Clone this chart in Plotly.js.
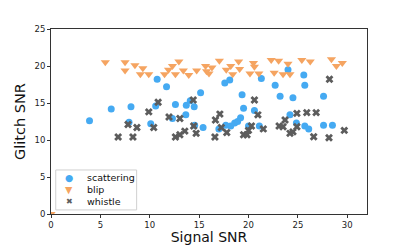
<!DOCTYPE html>
<html><head><meta charset="utf-8">
<script src="https://cdn.plot.ly/plotly-3.0.1.min.js"></script>
<style>html,body{margin:0;padding:0;background:#fff;}#chart{width:407px;height:245px;}</style>
</head><body><div id="chart"></div>
<script>
const scatteringX = [3.9,6.1,7.9,8.1,10.1,10.6,10.75,11.7,12.3,12.6,13.7,14.1,14.5,13.65,14.55,15.15,15.4,17.0,17.6,18.1,17.7,18.2,18.6,18.9,19.2,19.35,19.5,20.0,20.6,21.1,21.3,22.7,23.2,24.0,24.2,24.5,24.85,25.6,25.7,25.7,26.1,27.6,27.6,28.5];
const scatteringY = [12.6,14.2,12.4,14.5,12.2,14.6,18.2,17.2,12.9,14.8,14.7,15.3,14.5,13.4,12.0,16.4,11.7,11.5,17.7,18.1,12.0,11.9,12.3,12.5,13.0,16.1,14.3,11.9,14.0,11.9,18.3,17.4,15.9,19.5,13.4,15.7,12.3,18.8,17.4,11.9,11.5,15.9,12.0,12.0];
const blipX = [0,5.5,7.5,7.5,8.5,9.3,9.05,9.9,11.5,11.9,12.3,12.95,12.6,13.4,13.95,14.75,15.65,15.75,16.0,16.3,17.05,17.75,18.2,18.4,19.0,19.1,20.15,20.5,20.6,21.05,22.3,23.05,22.6,23.5,24.0,24.2,25.4,26.25,28.4,28.9,29.5];
const blipY = [0,20.5,20.5,19.4,20.1,19.7,18.9,18.9,18.9,19.5,20.0,20.6,18.9,19.4,18.8,19.4,20.0,19.3,19.0,19.8,20.7,19.5,20.0,18.9,20.6,19.6,19.0,20.4,19.9,19.0,20.8,20.7,19.1,18.9,20.3,18.9,20.8,20.6,20.9,20.0,20.4];
const whistleX = [6.8,7.8,8.3,8.7,9.9,10.4,10.85,11.95,12.6,13.05,13.05,13.55,14.4,14.45,14.7,16.6,16.65,17.1,17.25,17.8,19.5,19.85,20.0,20.3,20.6,20.95,21.5,23.1,23.5,23.7,24.2,24.5,24.9,24.9,25.9,26.85,26.6,28.15,28.2,29.7];
const whistleY = [10.4,12.1,10.4,11.7,13.8,11.7,15.1,13.1,10.4,12.9,10.7,11.2,15.4,11.9,10.9,10.4,12.7,13.5,11.7,11.0,10.7,10.7,11.3,11.9,15.4,13.4,11.5,11.9,11.8,12.7,10.9,11.1,11.8,13.6,13.7,13.7,10.45,10.3,18.2,11.3];
const seriesNames = ['scattering', 'blip', 'whistle'];
const seriesColors = ['#45aaf2', '#f5a461', '#5c5c5c'];
const legendGlyphs = ['\u25CF', '\u25BC', '\u2716'];
const tickVals = [0,5,10,15,20,25,30];
const yTickVals = [0,5,10,15,20,25];

const font = 'DejaVu Sans, sans-serif';
const traces = [
  {x: scatteringX, y: scatteringY, name: seriesNames[0], mode: 'markers', type: 'scatter', showlegend: false,
   marker: {symbol: 'circle', size: 7, color: seriesColors[0]}},
  {x: blipX, y: blipY, name: seriesNames[1], mode: 'markers', type: 'scatter', showlegend: false,
   marker: {symbol: 'triangle-down', size: 8, color: seriesColors[1]}},
  {x: whistleX, y: whistleY, name: seriesNames[2], mode: 'markers', type: 'scatter', showlegend: false,
   marker: {symbol: 'x', size: 7, color: seriesColors[2]}}
];
const axisCommon = {showline: true, linecolor: '#333', linewidth: 1, mirror: true,
  ticks: 'outside', ticklen: 3, tickcolor: '#333', showgrid: false, zeroline: false,
  tickfont: {family: font, size: 8.5, color: '#222'}};

// custom compact legend (matplotlib-like)
const legRows = [0.198, 0.134, 0.066];
const annotations = [];
seriesNames.forEach((n, i) => {
  annotations.push({xref: 'paper', yref: 'paper', x: 0.057, y: legRows[i], text: legendGlyphs[i],
    showarrow: false, xanchor: 'center', yanchor: 'middle',
    font: {family: font, size: i === 2 ? 8 : 9.5, color: seriesColors[i]}});
  annotations.push({xref: 'paper', yref: 'paper', x: 0.108, y: legRows[i], text: n,
    showarrow: false, xanchor: 'left', yanchor: 'middle',
    font: {family: font, size: 9.5, color: '#111'}});
});
const shapes = [{type: 'rect', xref: 'paper', yref: 'paper', x0: 0.015, x1: 0.271, y0: 0.022, y1: 0.238,
  line: {color: '#d0d0d0', width: 1}, fillcolor: 'rgba(255,255,255,0.85)', layer: 'above'}];

const layout = {
  width: 407, height: 245,
  margin: {l: 51, r: 40, t: 29, b: 31},
  paper_bgcolor: '#fff', plot_bgcolor: '#fff',
  showlegend: false,
  xaxis: Object.assign({}, axisCommon, {range: [0, 32], tickvals: tickVals,
    title: {text: 'Signal SNR', font: {family: font, size: 14, color: '#111'}, standoff: 4}}),
  yaxis: Object.assign({}, axisCommon, {range: [0, 25], tickvals: yTickVals,
    title: {text: 'Glitch SNR', font: {family: font, size: 14.5, color: '#111'}, standoff: 5}}),
  shapes: shapes,
  annotations: annotations
};
Plotly.newPlot('chart', traces, layout, {staticPlot: true, displayModeBar: false});
</script></body></html>
